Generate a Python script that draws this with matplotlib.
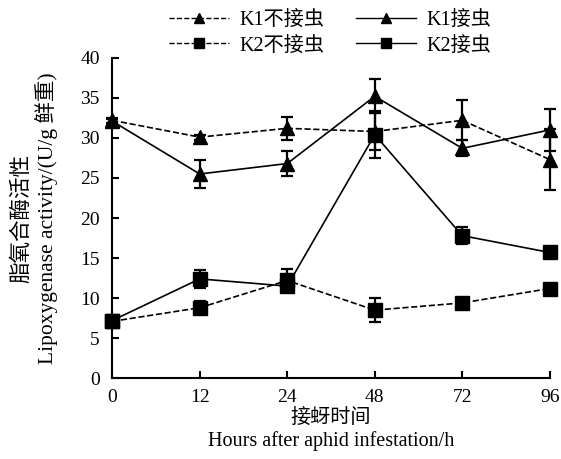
import matplotlib.pyplot as plt
from matplotlib.lines import Line2D

plt.rcParams['font.family'] = ['Liberation Serif', 'Noto Sans CJK SC']
plt.rcParams['axes.unicode_minus'] = False

hours = ['0', '12', '24', '48', '72', '96']

k1_ctrl = [32.2, 30.1, 31.2, 30.8, 32.2, 27.3]
k1_ctrl_err = [0.3, 0.3, 1.4, 2.3, 2.5, 3.8]
k1_inf = [32.1, 25.5, 26.8, 35.2, 28.7, 31.0]
k1_inf_err = [0.3, 1.7, 1.6, 2.1, 1.0, 2.6]
k2_ctrl = [7.1, 8.8, 12.2, 8.5, 9.4, 11.2]
k2_ctrl_err = [0.4, 0.8, 1.4, 1.5, 0.3, 0.3]
k2_inf = [7.2, 12.4, 11.5, 30.4, 17.8, 15.7]
k2_inf_err = [0.4, 1.1, 0.6, 2.9, 1.1, 0.3]

fig = plt.figure(figsize=(5.61, 4.59), dpi=100)
ax = fig.add_axes([0.2, 0.176, 0.78, 0.698])

x = range(len(hours))
common = dict(color='black', lw=1.2, capsize=4, elinewidth=1.6, capthick=1.6, ms=10)
ax.errorbar(x, k1_ctrl, yerr=k1_ctrl_err, fmt='^--', **common)
ax.errorbar(x, k1_inf, yerr=k1_inf_err, fmt='^-', **common)
ax.errorbar(x, k2_ctrl, yerr=k2_ctrl_err, fmt='s--', **common)
ax.errorbar(x, k2_inf, yerr=k2_inf_err, fmt='s-', **common)

ax.set_xlim(0, 5)
ax.set_ylim(0, 40)
ax.set_xticks(list(x))
ax.set_xticklabels(hours)
ax.set_yticks(range(0, 41, 5))
ax.tick_params(direction='in', labelsize=14, width=1.5, length=5, pad=8)
ax.tick_params(axis='y', pad=9)
for s in ['top', 'right']:
    ax.spines[s].set_visible(False)
for s in ['left', 'bottom']:
    ax.spines[s].set_linewidth(1.5)
for c in ax.get_children():
    try:
        c.set_clip_on(False)
    except Exception:
        pass

ax.set_xlabel('接蚜时间\nHours after aphid infestation/h', fontsize=14.5, linespacing=1.2, labelpad=2)
ax.set_ylabel('脂氧合酶活性\nLipoxygenase activity/(U/g 鲜重)', fontsize=15.5, linespacing=1.15, labelpad=16)

handles = [
    Line2D([], [], color='black', ls='--', lw=1, marker='^', ms=7),
    Line2D([], [], color='black', ls='--', lw=1, marker='s', ms=7),
    Line2D([], [], color='black', ls='-', lw=1, marker='^', ms=7),
    Line2D([], [], color='black', ls='-', lw=1, marker='s', ms=7),
]
labels = ['K1不接虫', 'K2不接虫', 'K1接虫', 'K2接虫']
fig.legend(handles, labels, ncol=2, loc='upper left', bbox_to_anchor=(0.269, 1.015),
           frameon=False, fontsize=14.5, handlelength=3.0, columnspacing=1.55,
           labelspacing=0.3, handletextpad=0.5)

fig.savefig('out.png', dpi=100)
